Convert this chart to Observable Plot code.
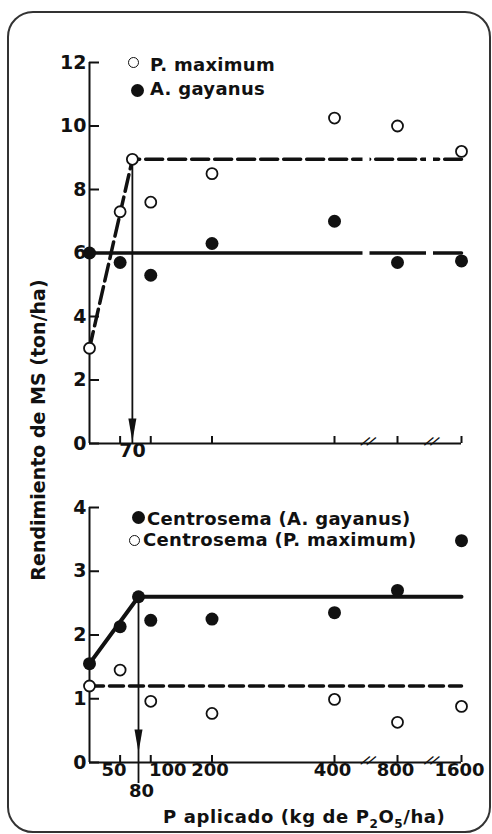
<!DOCTYPE html>
<html>
<head>
<meta charset="utf-8">
<script src="https://cdn.jsdelivr.net/npm/d3@7"></script>
<script src="https://cdn.jsdelivr.net/npm/@observablehq/plot@0.6"></script>
<style>
  body { margin: 0; background: #fff; }
  #wrap { position: relative; width: 492px; height: 834px; overflow: hidden; background: #fff;
          font-family: "DejaVu Sans", sans-serif; font-weight: bold; color: #111; }
  .frame { position: absolute; left: 7px; top: 11px; width: 484px; height: 822px; box-sizing: border-box;
           border: 2px solid #333; border-radius: 26px; }
  .abs { position: absolute; white-space: nowrap; }
  .leg { position: absolute; white-space: nowrap; font-size: 18px; line-height: 18px; letter-spacing: 0.3px; }
  .dot { position: absolute; border-radius: 50%; box-sizing: border-box; }
  .open { border: 1.6px solid #111; background: #fff; }
  .filled { background: #111; }
</style>
</head>
<body>
<div id="wrap">
  <div class="frame"></div>
  <div id="topPanel" class="abs" style="left:0;top:0"></div>
  <div id="botPanel" class="abs" style="left:0;top:480px"></div>

  <div class="abs" style="left:38px;top:430px;font-size:19px;line-height:19px;transform:translate(-50%,-50%) rotate(-90deg);">Rendimiento de MS (ton/ha)</div>

  <div class="dot open" style="left:127.5px;top:56.5px;width:11px;height:11px;"></div>
  <div class="leg" style="left:150px;top:56px;">P. maximum</div>
  <div class="dot filled" style="left:130.5px;top:83.5px;width:13px;height:13px;"></div>
  <div class="leg" style="left:150px;top:80px;">A. gayanus</div>

  <div class="dot filled" style="left:131.5px;top:510.5px;width:13px;height:13px;"></div>
  <div class="leg" style="left:147px;top:510px;">Centrosema (A. gayanus)</div>
  <div class="dot open" style="left:128.5px;top:534.5px;width:11px;height:11px;"></div>
  <div class="leg" style="left:143px;top:531px;">Centrosema (P. maximum)</div>

  <div class="abs" style="left:163px;top:808px;font-size:18px;line-height:18px;letter-spacing:0.6px;">P aplicado (kg de P<sub style="font-size:12px;vertical-align:-5px;line-height:0">2</sub>O<sub style="font-size:12px;vertical-align:-5px;line-height:0">5</sub>/ha)</div>
</div>

<script>
// ---------- data ----------
const pLevels   = [0, 50, 100, 200, 400, 800, 1600];       // kg P2O5/ha
const pMaximum  = [3.0, 7.3, 7.6, 8.5, 10.25, 10.0, 9.2];  // ton/ha (open)
const aGayanus  = [6.0, 5.7, 5.3, 6.3, 7.0, 5.7, 5.75];    // ton/ha (filled)
const centroAG  = [1.55, 2.13, 2.23, 2.25, 2.35, 2.7, 3.48]; // Centrosema (A. gayanus)
const centroPM  = [1.2, 1.45, 0.96, 0.77, 0.99, 0.63, 0.88]; // Centrosema (P. maximum)

const fitPMaxX = [0, 70, 1600],  fitPMaxY = [3.0, 8.95, 8.95];
const fitAGayX = [0, 1600],      fitAGayY = [6.0, 6.0];
const fitCAGX  = [0, 80, 1600],  fitCAGY  = [1.55, 2.6, 2.6];
const fitCPMX  = [0, 1600],      fitCPMY  = [1.2, 1.2];

const criticalTop = [{x: 70, y: 8.95}];
const criticalBot = [{x: 80, y: 2.6}];

const yTicksTop = [0, 2, 4, 6, 8, 10, 12];
const yTicksBot = [0, 1, 2, 3, 4];
const xTicks = [50, 100, 200, 400, 800, 1600];
const axisBreaks = [600, 1200];
const xDomain = [0, 400, 800, 1600];   // broken axis pieces

(function () {
  const zip = (xs, ys) => xs.map((x, i) => ({x, y: ys[i]}));
  const INK = "#111";
  const arrowHead = {
    draw(ctx) { ctx.moveTo(0, -1); ctx.lineTo(-4, -24); ctx.lineTo(4, -24); ctx.closePath(); }
  };
  const style = {fontFamily: "DejaVu Sans", fontWeight: "bold", fontSize: "19px", color: INK, background: "transparent", overflow: "visible"};
  const xRange = [89, 334, 397, 461];
  const fmt = d => String(d);

  function slashes() {
    return [-3, 3].map(dx => Plot.text(axisBreaks, {x: d => d, frameAnchor: "bottom", text: () => "|",
      rotate: 50, fontSize: 12, dx, fill: INK}));
  }

  // ---------- top panel ----------
  const Wt = 492, Ht = 480, mt = 62, mb = 37, ml = 89, mr = 31;
  const topChart = Plot.plot({
    width: Wt, height: Ht, marginTop: mt, marginBottom: mb, marginLeft: ml, marginRight: mr,
    x: {type: "linear", domain: xDomain, range: xRange, axis: null},
    y: {type: "linear", domain: [0, 12]},
    style,
    marks: [
      Plot.line(zip(fitAGayX, fitAGayY), {x: "x", y: "y", stroke: INK, strokeWidth: 3.5}),
      Plot.line(zip(fitPMaxX, fitPMaxY), {x: "x", y: "y", stroke: INK, strokeWidth: 3.5, strokeDasharray: "17,6"}),
      Plot.ruleX(axisBreaks, {x: d => d, stroke: "#fff", strokeWidth: 7}),
      Plot.ruleX(criticalTop, {x: "x", y1: "y", y2: () => 0, stroke: INK, strokeWidth: 1.8}),
      Plot.dot(criticalTop, {x: "x", frameAnchor: "bottom", symbol: arrowHead, r: 5, fill: INK, dy: -1}),
      Plot.ruleX([0], {stroke: INK, strokeWidth: 2}),
      Plot.ruleY([0], {stroke: INK, strokeWidth: 2}),
      Plot.tickY(yTicksTop, {y: d => d, insetRight: (Wt - ml - mr) - 10, stroke: INK, strokeWidth: 2}),
      Plot.tickX(xTicks, {x: d => d, insetTop: (Ht - mt - mb) - 7, stroke: INK, strokeWidth: 2}),
      Plot.axisY(yTicksTop, {tickSize: 0, tickPadding: 3, fontSize: 19, label: null, fill: INK, tickFormat: fmt}),
      Plot.text(criticalTop, {x: "x", frameAnchor: "bottom", text: d => String(d.x), dy: 13, fontSize: 19, fill: INK}),
      ...slashes(),
      Plot.dot(zip(pLevels, aGayanus), {x: "x", y: "y", r: 6.5, fill: INK}),
      Plot.dot(zip(pLevels, pMaximum), {x: "x", y: "y", r: 5.5, fill: "#fff", stroke: INK, strokeWidth: 1.8}),
      Plot.dot(criticalTop, {x: "x", y: "y", r: 5.5, fill: "#fff", stroke: INK, strokeWidth: 1.8})
    ]
  });
  document.getElementById("topPanel").appendChild(topChart);

  // ---------- bottom panel ----------
  const Wb = 492, Hb = 354, mtb = 27, mbb = 72;
  const botChart = Plot.plot({
    width: Wb, height: Hb, marginTop: mtb, marginBottom: mbb, marginLeft: ml, marginRight: mr,
    x: {type: "linear", domain: xDomain, range: xRange, axis: null},
    y: {type: "linear", domain: [0, 4]},
    style,
    marks: [
      Plot.line(zip(fitCPMX, fitCPMY), {x: "x", y: "y", stroke: INK, strokeWidth: 3.5, strokeDasharray: "14,6"}),
      Plot.line(zip(fitCAGX, fitCAGY), {x: "x", y: "y", stroke: INK, strokeWidth: 4}),
      Plot.ruleX(criticalBot, {x: "x", y1: "y", y2: () => 0, insetBottom: -21, stroke: INK, strokeWidth: 1.8}),
      Plot.dot(criticalBot, {x: "x", frameAnchor: "bottom", symbol: arrowHead, r: 5, fill: INK, dy: -9}),
      Plot.ruleX([0], {stroke: INK, strokeWidth: 2}),
      Plot.ruleY([0], {stroke: INK, strokeWidth: 2}),
      Plot.tickY(yTicksBot, {y: d => d, insetRight: (Wb - ml - mr) - 10, stroke: INK, strokeWidth: 2}),
      Plot.tickX(xTicks, {x: d => d, insetTop: (Hb - mtb - mbb) - 7, stroke: INK, strokeWidth: 2}),
      Plot.axisY(yTicksBot, {tickSize: 0, tickPadding: 3, fontSize: 19, label: null, fill: INK, tickFormat: fmt}),
      Plot.text([50], {x: d => d, frameAnchor: "bottom", text: fmt, dy: 13, dx: -6, fontSize: 18, fill: INK}),
      Plot.text([100], {x: d => d, frameAnchor: "bottom", text: fmt, dy: 13, dx: 17, fontSize: 18, fill: INK}),
      Plot.text([200, 400, 800, 1600], {x: d => d, frameAnchor: "bottom", text: fmt, dy: 13, dx: -2, fontSize: 18, fill: INK}),
      Plot.text(criticalBot, {x: "x", frameAnchor: "bottom", text: d => String(d.x), dy: 34, dx: 3, fontSize: 18, fill: INK}),
      ...slashes(),
      Plot.dot(zip(pLevels, centroPM), {x: "x", y: "y", r: 5.5, fill: "#fff", stroke: INK, strokeWidth: 1.8}),
      Plot.dot(zip(pLevels, centroAG), {x: "x", y: "y", r: 6.5, fill: INK}),
      Plot.dot(criticalBot, {x: "x", y: "y", r: 6.5, fill: INK})
    ]
  });
  document.getElementById("botPanel").appendChild(botChart);
})();
</script>
</body>
</html>
